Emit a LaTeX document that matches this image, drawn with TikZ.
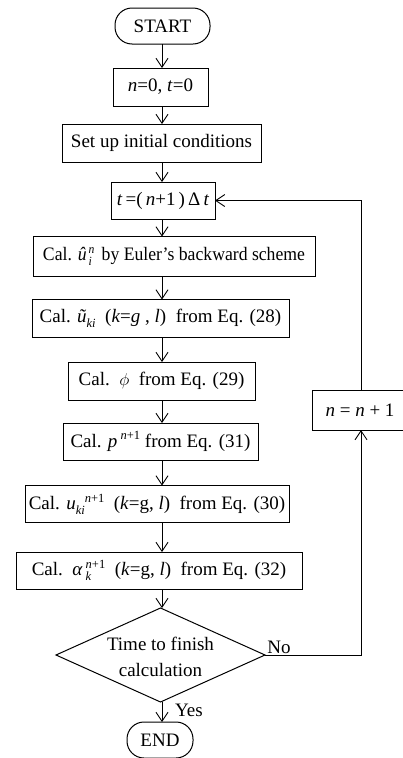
\documentclass[tikz,border=0pt]{standalone}
\usepackage{graphicx}
\usepackage{fontspec}
\setmainfont{Liberation Serif}
\usetikzlibrary{arrows.meta}

% raised / lowered small text for indices
\newcommand\supsc[1]{\raisebox{0.85ex}{\fontsize{12.5}{12.5}\selectfont #1}}
\newcommand\subsc[1]{\raisebox{-0.55ex}{\fontsize{12.5}{12.5}\selectfont #1}}

\tikzset{
  x=1pt, y=-1pt,
  every node/.style={font=\fontsize{19}{22}\selectfont, inner sep=0pt, outer sep=0pt},
  box/.style={draw, line width=1pt, minimum width=#1, minimum height=38pt},
  term/.style={draw, line width=1pt, rounded corners=17pt, minimum width=#1, minimum height=36pt},
  flow/.style={line width=0.9pt, -{Straight Barb[length=9pt,width=12pt,line width=0.9pt]}},
}

\begin{document}
\begin{tikzpicture}
\useasboundingbox (0,0) rectangle (403,758);
\clip (0,0) rectangle (403,758);
\fill[white] (0,0) rectangle (403,758);

\coordinate (ax) at (162,0);
\coordinate (rx) at (361,0);

\node[term=95pt]  (start) at (162.5,26)  {START};
\node[box=95pt]   (n0)    at (160.5,87)  {\textit{n}=0, \textit{t}=0};
\node[box=199pt]  (init)  at (161.5,143) {Set up initial conditions};
\node[box=104pt, minimum height=37pt] (tt) at (163,200.5)
  {\textit{t}\,=(\,\textit{n}+1\,)\,Δ\,\textit{t}};
\node[box=282pt, minimum height=40pt] (euler) at (174,256.5)
  {\scalebox{0.93}[1]{Cal. \textit{û}\kern2pt\rlap{\subsc{\textit{i}}}\supsc{\textit{n}}\ \,by Euler’s backward scheme}};
\node[box=257pt] (util) at (160.5,318.5)
  {Cal. \textit{ũ}\subsc{\textit{ki}}\ \ (\textit{k}=\textit{g} , \textit{l})\ \ from Eq. (28)};
\node[box=187pt] (phi) at (161.5,381)
  {Cal.\ \ $\phi$\ \ from Eq. (29)};
\node[box=195pt, minimum height=37pt] (pp) at (160.5,441.5)
  {Cal. \textit{p}\,\supsc{\textit{n}+1} from Eq. (31)};
\node[box=264pt, minimum height=37pt] (uu) at (157,504)
  {Cal. \textit{u}\subsc{\textit{ki}}\supsc{\textit{n}+1}\ \ (\textit{k}=g, \textit{l})\ \ from Eq. (30)};
\node[box=286pt, minimum height=37pt] (alpha) at (159,570.5)
  {Cal.\ \ \textit{α}\kern3pt\rlap{\subsc{\textit{k}}}\supsc{\textit{n}+1}\ \ (\textit{k}=g, \textit{l})\ \ from Eq. (32)};

% decision diamond
\draw[line width=1pt] (56,655) coordinate (dW) -- (160.5,608) coordinate (dN)
  -- (265,655) coordinate (dE) -- (160.5,702) coordinate (dS) -- cycle;
\node[align=center, font=\fontsize{19}{26}\selectfont] (dec) at (160.5,657) {Time to finish\\calculation};

\node[term=66pt] (end) at (160,740) {END};

% counter box, its right side runs off the edge
\node[box=140pt, minimum height=40pt] (inc) at (382,410) {};
\node (inctext) at (360,410) {\textit{n} = \textit{n} + 1};

% main column
\draw[flow] (start.south -| ax) -- (n0.north -| ax);
\draw[flow] (n0.south -| ax) -- (init.north -| ax);
\draw[flow] (init.south -| ax) -- (tt.north -| ax);
\draw[flow] (tt.south -| ax) -- (euler.north -| ax);
\draw[flow] (euler.south -| ax) -- (util.north -| ax);
\draw[flow] (util.south -| ax) -- (phi.north -| ax);
\draw[flow] (phi.south -| ax) -- (pp.north -| ax);
\draw[flow] (pp.south -| ax) -- (uu.north -| ax);
\draw[flow] (uu.south -| ax) -- (alpha.north -| ax);
\draw[flow] (alpha.south -| ax) -- (dN -| ax);
\draw[flow] (dS -| ax) -- (end.north -| ax);

% loop back
\draw[flow] (dE) -- (dE -| rx) -- (inc.south -| rx);
\draw[flow] (inc.north -| rx) -- (tt.east -| rx) -- (tt.east);

\node (no)  at (279,647) {No};
\node (yes) at (189,710) {Yes};
\end{tikzpicture}
\end{document}
